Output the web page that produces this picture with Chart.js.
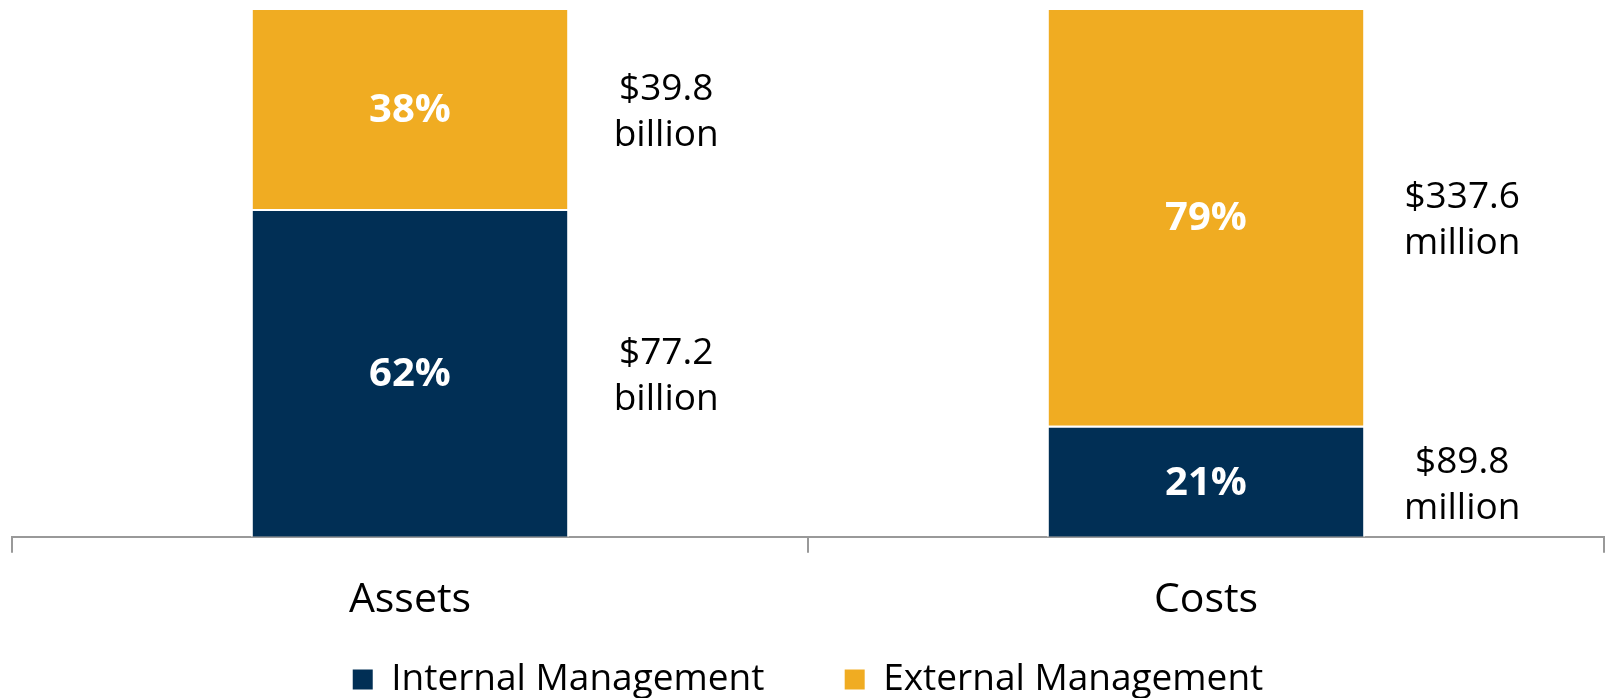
<!DOCTYPE html>
<html>
<head>
<meta charset="utf-8">
<script src="https://cdn.jsdelivr.net/npm/chart.js@4"></script>
<style>
  body { margin: 0; background: #fff; }
</style>
</head>
<body>
<canvas id="myChart" width="1606" height="698"></canvas>
<script>
const categories = ['Assets', 'Costs']
const internalPct = [62, 21]
const externalPct = [38, 79]
const internalAmounts = [['$77.2', 'billion'], ['$89.8', 'million']]
const externalAmounts = [['$39.8', 'billion'], ['$337.6', 'million']]

const navy = '#012F55'
const gold = '#F0AC22'
const fontName = "'Open Sans', sans-serif"

// percent labels inside the bars, dollar amounts to the right
const barLabels = {
  id: 'barLabels',
  afterDatasetsDraw(chart) {
    const ctx = chart.ctx
    const amounts = [internalAmounts, externalAmounts]
    ctx.save()
    ctx.textAlign = 'center'
    ctx.textBaseline = 'middle'
    chart.data.datasets.forEach((ds, i) => {
      const meta = chart.getDatasetMeta(i)
      meta.data.forEach((bar, j) => {
        const cy = (bar.y + bar.base) / 2
        ctx.fillStyle = '#fff'
        ctx.font = 'bold 40px ' + fontName
        ctx.fillText(ds.data[j] + '%', bar.x, cy + 2)
        const lines = amounts[i][j]
        const tx = bar.x + bar.width / 2 + 97
        ctx.fillStyle = '#000'
        ctx.font = '37px ' + fontName
        ctx.fillText(lines[0], tx, cy - 19)
        ctx.fillText(lines[1], tx, cy + 27)
      })
    })
    ctx.restore()
  }
}

const dataConfig = {
  labels: categories,
  datasets: [{
    label: 'Internal Management',
    backgroundColor: navy,
    borderColor: '#fff',
    borderWidth: 2,
    data: internalPct,
  }, {
    label: 'External Management',
    backgroundColor: gold,
    borderColor: '#fff',
    borderWidth: 2,
    data: externalPct,
  }]
}

const config = {
  type: 'bar',
  data: dataConfig,
  plugins: [barLabels],
  options: {
    responsive: false,
    devicePixelRatio: 1,
    animation: false,
    categoryPercentage: 0.8,
    barPercentage: 0.5,
    layout: { padding: { left: 12, right: 2, top: 8, bottom: -10 } },
    plugins: {
      tooltip: { enabled: false },
      legend: {
        position: 'bottom',
        labels: {
          color: '#000',
          boxWidth: 20,
          boxHeight: 20,
          padding: 13,
          font: { family: fontName, size: 37 },
          // wider gap after the first item
          generateLabels: (chart) => {
            const items = Chart.defaults.plugins.legend.labels.generateLabels(chart)
            items[0].text += '       '
            items.forEach((it) => { it.lineWidth = 0 })
            return items
          }
        }
      }
    },
    scales: {
      x: {
        stacked: true,
        grid: { drawOnChartArea: false, color: '#999', lineWidth: 2, tickLength: 16 },
        border: { color: '#999', width: 2 },
        ticks: { color: '#000', padding: 23, font: { family: fontName, size: 41 } }
      },
      y: {
        stacked: true,
        display: false,
        min: 0,
        max: 100
      }
    }
  }
}

const myChart = new Chart(document.getElementById('myChart'), config)
</script>
</body>
</html>
